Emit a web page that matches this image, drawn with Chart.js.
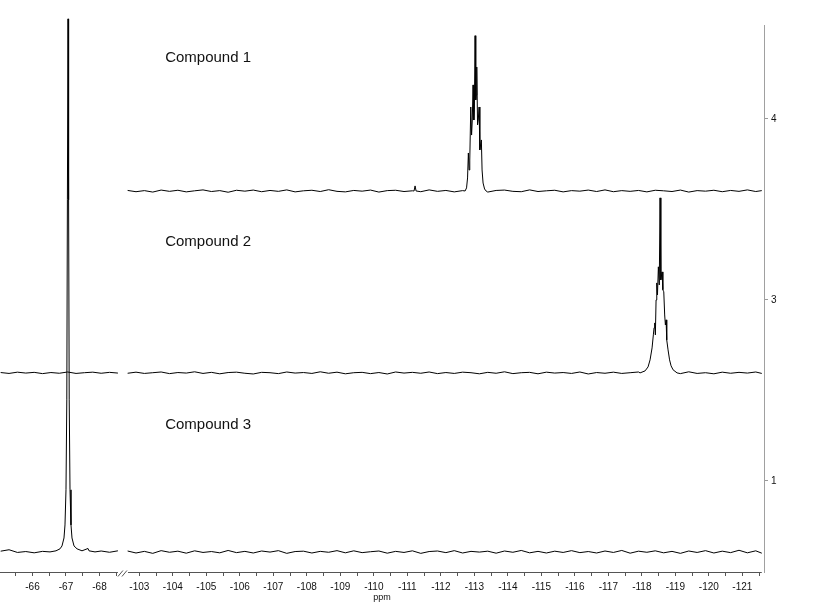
<!DOCTYPE html>
<html>
<head>
<meta charset="utf-8">
<title>19F NMR stack</title>
<script src="https://cdn.jsdelivr.net/npm/chart.js@4.4.1/dist/chart.umd.min.js"></script>
<style>
    html, body { margin: 0; padding: 0; background: #fff; }
    canvas { display: block; }
</style>
</head>
<body>
<canvas id="chart" width="816" height="603"></canvas>
<script>
// --- data (ppm, intensity in milli-units of the stacked axis) ---
const compoundNames = ['Compound 1', 'Compound 2', 'Compound 3'];

// baseline grid, left (-65..-68.6 ppm) and right (-102.6..-121.6 ppm) windows
const gridLeftPpm = [-65.05, -65.3, -65.55, -65.8, -66.05, -66.3, -66.55, -66.8, -67.05, -67.3, -67.55, -67.8, -68.05, -68.3, -68.55];
const gridRightPpm = [
    -102.65, -102.9, -103.15, -103.4, -103.65, -103.9, -104.15, -104.4, -104.65, -104.9, -105.15,
    -105.4, -105.65, -105.9, -106.15, -106.4, -106.65, -106.9, -107.15, -107.4, -107.65, -107.9,
    -108.15, -108.4, -108.65, -108.9, -109.15, -109.4, -109.65, -109.9, -110.15, -110.4, -110.65,
    -110.9, -111.15, -111.4, -111.65, -111.9, -112.15, -112.4, -112.65, -112.9, -113.15, -113.4,
    -113.65, -113.9, -114.15, -114.4, -114.65, -114.9, -115.15, -115.4, -115.65, -115.9, -116.15,
    -116.4, -116.65, -116.9, -117.15, -117.4, -117.65, -117.9, -118.15, -118.4, -118.65, -118.9,
    -119.15, -119.4, -119.65, -119.9, -120.15, -120.4, -120.65, -120.9, -121.15, -121.4, -121.58
];

// baseline noise
const noise1Right = [
    3, -4, 2, -6, 5, -2, 4, -5, 1, 6, -3,
    2, -7, 4, -1, 5, -4, 3, -2, 6, -5, 1,
    4, -3, 7, -2, -5, 3, -1, 5, -6, 2, 4,
    -3, 1, -4, 6, -2, 3, -5, 2, -1, 4, -6,
    3, 5, -2, -4, 6, -3, 1, 4, -5, 2, -1,
    5, -3, 6, -4, 2, -2, 3, -5, 4, 1, -3,
    5, -6, 2, -1, 4, -4, 3, -2, 6, -3, 2
];
const noise2Left = [2, -3, 4, -1, 3, -4, 2, -2, 5, -3, 1, 4, -2, 3, -1];
const noise2Right = [
    -2, 4, -3, 1, 5, -4, 2, -1, 6, -3, 3,
    -5, 2, 4, -2, -6, 3, 1, -4, 5, -1, 2,
    -3, 6, -2, 4, -5, 1, 3, -4, 2, -6, 5,
    -1, 3, -2, 5, -4, 2, -3, 4, 1, -5, 3,
    -2, 6, -4, 1, 3, -5, 4, -1, 2, -3, 5,
    -6, 2, -2, 4, -3, 1, 5, -4, 3, -1, 2,
    -4, 6, -3, 1, -5, 4, -2, 3, -1, 5, -3
];
const noise3Left = [4, 12, -3, 2, -5, 3, 1, 0, 0, 0, -4, 3, 5, -2, 6];
const noise3Right = [
    5, -6, 3, -8, 7, -2, 4, -7, 6, -3, 2,
    -5, 8, -4, 3, -6, 5, -1, 7, -8, 2, 4,
    -6, 3, -2, 7, -5, 6, -4, 1, 5, -7, 3,
    -3, 6, -8, 2, 5, -4, 7, -6, 3, -1, 4,
    -7, 5, -2, 8, -5, 3, -6, 4, -3, 7, -4,
    2, -6, 5, -3, 8, -7, 4, -2, 6, -5, 3,
    -8, 5, -3, 7, -6, 4, -4, 9, -5, 6, -7
];

// signals
const c1SpikePpm = [-111.20, -111.23, -111.26];
const c1SpikeInt = [0, 28, 0];
const c1MultPpm = [-112.723, -112.767, -112.797, -112.821, -112.842, -112.863, -112.893, -112.917, -112.938, -112.961, -112.985, -113.000, -113.021,
    -113.042, -113.057, -113.072, -113.096, -113.117, -113.141, -113.164, -113.185, -113.209, -113.230, -113.260, -113.305, -113.349];
const c1MultInt = [0, 17, 72, 210, 116, 171, 464, 309, 392, 586, 392, 448, 858,
    503, 530, 685, 365, 392, 464, 227, 254, 282, 116, 44, 11, 0];

const c2MultPpm = [-117.946, -118.096, -118.185, -118.245, -118.305, -118.343, -118.364, -118.385, -118.403, -118.424, -118.445, -118.466, -118.493, -118.520,
    -118.543, -118.567, -118.603, -118.627, -118.654, -118.681, -118.702, -118.723, -118.743, -118.782, -118.827, -118.872, -118.932, -119.051];
const c2MultInt = [0, 11, 33, 72, 138, 210, 249, 276, 210, 403, 497, 431, 586, 486,
    967, 514, 558, 459, 448, 320, 265, 293, 182, 127, 72, 39, 17, 0];

const c3PeakPpm = [-66.523, -66.702, -66.821, -66.881, -66.940, -66.970, -67.000, -67.024, -67.042, -67.060, -67.078,
    -67.096, -67.120, -67.149, -67.179, -67.239, -67.329, -67.478, -67.657, -67.687, -67.866];
const c3PeakInt = [0, 6, 17, 33, 77, 149, 343, 840, 1945, 2945, 1945,
    840, 343, 149, 77, 33, 17, 6, 19, 6, 0];

// axis ticks
const xMajorLeft = [-66, -67, -68];
const xMajorRight = [-103, -104, -105, -106, -107, -108, -109, -110, -111, -112, -113, -114, -115, -116, -117, -118, -119, -120, -121];
const xMinorLeft = [-65.5, -66.5, -67.5, -68.5];
const xMinorRight = [-103.5, -104.5, -105.5, -106.5, -107.5, -108.5, -109.5, -110.5, -111.5, -112.5, -113.5, -114.5, -115.5,
    -116.5, -117.5, -118.5, -119.5, -120.5, -121.5];
const yTickValues = [1000, 2000, 3000];
const yTickLabels = ['1', '3', '4'];

// --- presentation ---
const baselineOffsets = [2602, 1597, 608];
const labelRise = [735, 723, 701];
const labelPpm = -103.77;

// broken x axis: two windows joined with a small gap
const LEFT_START = -65.03;
const LEFT_END = -68.55;
const RIGHT_START = -102.66;
const GAP_U = 0.3;
const RIGHT_U0 = (LEFT_START - LEFT_END) + GAP_U;
const X_MAX = 22.806;

function toU(ppm) {
    return ppm > -85 ? LEFT_START - ppm : RIGHT_U0 + (RIGHT_START - ppm);
}

function segmento(gridPpm, noise, clusters, offset) {
    const rangos = clusters.map(c => [Math.min(...c.ppm), Math.max(...c.ppm)]);
    const pts = [];
    gridPpm.forEach((p, i) => {
        if (rangos.some(r => p >= r[0] && p <= r[1])) return;
        pts.push({ ppm: p, y: offset + (noise[i] ?? 0) });
    });
    clusters.forEach(c => c.ppm.forEach((p, i) => pts.push({ ppm: p, y: offset + c.int[i] })));
    pts.sort((a, b) => b.ppm - a.ppm);
    return pts.map(p => ({ x: toU(p.ppm), y: p.y }));
}

const gapPoint = { x: (LEFT_START - LEFT_END) + GAP_U / 2, y: null };

const trace1 = segmento(gridRightPpm, noise1Right, [
    { ppm: c1SpikePpm, int: c1SpikeInt },
    { ppm: c1MultPpm, int: c1MultInt }
], baselineOffsets[0]);

const trace2 = [
    ...segmento(gridLeftPpm, noise2Left, [], baselineOffsets[1]),
    gapPoint,
    ...segmento(gridRightPpm, noise2Right, [{ ppm: c2MultPpm, int: c2MultInt }], baselineOffsets[1])
];

const trace3 = [
    ...segmento(gridLeftPpm, noise3Left, [{ ppm: c3PeakPpm, int: c3PeakInt }], baselineOffsets[2]),
    gapPoint,
    ...segmento(gridRightPpm, noise3Right, [], baselineOffsets[2])
];

const xTickList = [
    ...xMajorLeft.map(p => ({ ppm: p, text: String(p) })),
    ...xMinorLeft.map(p => ({ ppm: p, text: '' })),
    ...xMajorRight.map(p => ({ ppm: p, text: String(p) })),
    ...xMinorRight.map(p => ({ ppm: p, text: '' }))
].map(t => ({ u: toU(t.ppm), text: t.text })).sort((a, b) => a.u - b.u);

const tickFont = { family: '"Liberation Sans", Arial, sans-serif', size: 10 };

const axisBreakPlugin = {
    id: 'axisBreak',
    afterDraw(chart) {
        const { ctx, chartArea, scales } = chart;
        const x = scales.x;
        const y = chartArea.bottom + 0.5;
        const xl0 = x.getPixelForValue(0);
        const xl1 = x.getPixelForValue(toU(LEFT_END));
        const xr0 = x.getPixelForValue(toU(RIGHT_START));
        const xr1 = x.getPixelForValue(toU(-121.58));
        ctx.save();
        ctx.strokeStyle = '#555';
        ctx.lineWidth = 1;
        ctx.beginPath();
        ctx.moveTo(xl0, y); ctx.lineTo(xl1, y);
        ctx.moveTo(xr0, y); ctx.lineTo(xr1, y);
        const mid = (xl1 + xr0) / 2;
        ctx.moveTo(mid - 5, y + 4); ctx.lineTo(mid, y - 2);
        ctx.moveTo(mid - 1, y + 4); ctx.lineTo(mid + 4, y - 2);
        ctx.stroke();
        ctx.restore();
    },
    afterDatasetsDraw(chart) {
        const { ctx, scales } = chart;
        ctx.save();
        ctx.font = '15px "Liberation Sans", Arial, sans-serif';
        ctx.fillStyle = '#111';
        ctx.textBaseline = 'middle';
        ctx.textAlign = 'left';
        compoundNames.forEach((name, i) => {
            const px = scales.x.getPixelForValue(toU(labelPpm));
            const py = scales.y.getPixelForValue(baselineOffsets[i] + labelRise[i]);
            ctx.fillText(name, px, py);
        });
        ctx.restore();
    }
};

new Chart(document.getElementById('chart'), {
    type: 'line',
    data: {
        datasets: [trace1, trace2, trace3].map((data, i) => ({
            label: compoundNames[i],
            data,
            borderColor: '#000',
            borderWidth: 1,
            pointRadius: 0,
            tension: 0,
            spanGaps: false,
            clip: false
        }))
    },
    options: {
        responsive: false,
        animation: false,
        devicePixelRatio: 1,
        layout: { padding: { top: 25, left: 0, right: 0, bottom: 0 } },
        plugins: {
            legend: { display: false },
            tooltip: { enabled: false }
        },
        scales: {
            x: {
                type: 'linear',
                min: 0,
                max: X_MAX,
                afterBuildTicks(scale) {
                    scale.ticks = xTickList.map(t => ({ value: t.u }));
                },
                afterFit(scale) {
                    scale.height = 31;
                },
                ticks: {
                    autoSkip: false,
                    maxRotation: 0,
                    padding: 5,
                    color: '#111',
                    font: tickFont,
                    callback: (v, i) => xTickList[i] ? xTickList[i].text : ''
                },
                grid: { drawOnChartArea: false, drawTicks: true, tickLength: 4, tickColor: '#555' },
                border: { display: false },
                title: {
                    display: true,
                    text: 'ppm',
                    color: '#111',
                    font: { family: '"Liberation Sans", Arial, sans-serif', size: 9 },
                    padding: { top: 0, bottom: 0 }
                }
            },
            y: {
                type: 'linear',
                position: 'right',
                min: 497,
                max: 3519,
                afterBuildTicks(scale) {
                    scale.ticks = yTickValues.map(v => ({ value: v }));
                },
                afterFit(scale) {
                    scale.width = 52;
                },
                ticks: {
                    padding: 3,
                    color: '#111',
                    font: tickFont,
                    callback: (v, i) => yTickLabels[i]
                },
                grid: { drawOnChartArea: false, drawTicks: true, tickLength: 4, tickColor: '#999' },
                border: { display: true, color: '#a0a0a0', width: 1 }
            }
        }
    },
    plugins: [axisBreakPlugin]
});
</script>
</body>
</html>
